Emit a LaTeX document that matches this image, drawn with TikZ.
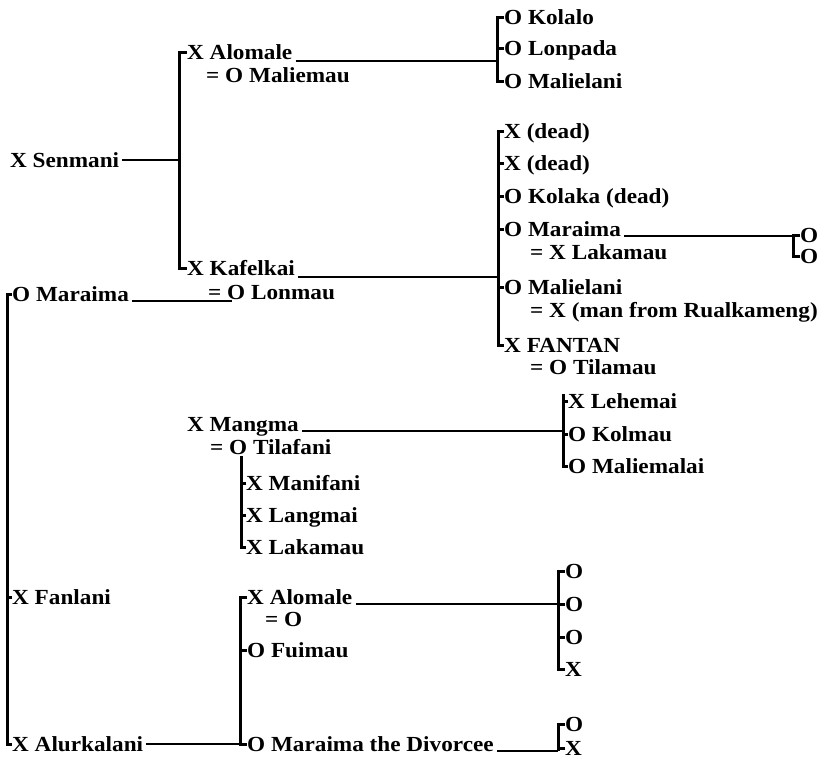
\documentclass[tikz,border=0pt]{standalone}
\usepackage{fontspec}
\setmainfont{Liberation Serif}[FakeStretch=1.08]
\usetikzlibrary{positioning}

\begin{document}
\begin{tikzpicture}[x=1pt, y=-1pt,
    font=\fontsize{21.5}{24}\selectfont\bfseries,
    person/.style={anchor=west, inner sep=0pt, text height=14pt, text depth=0pt},
    link/.style={line width=2.2pt},
    spine/.style={line width=3pt}]
  \useasboundingbox (0,0) rectangle (824,763);

  % Senmani and his two sons
  \node[person] (senmani)   at (10,160)  {X Senmani};
  \node[person] (alomaleA)  at (187,52)  {X Alomale};
  \node[person] (maliemau)  at (206,75)  {= O Maliemau};
  \node[person] (kafelkai)  at (187,268) {X Kafelkai};
  \node[person] (lonmau)    at (208,292) {= O Lonmau};

  % children of Alomale
  \node[person] (kolalo)     at (504,17) {O Kolalo};
  \node[person] (lonpada)    at (504,48) {O Lonpada};
  \node[person] (malielaniA) at (504,81) {O Malielani};

  % children of Kafelkai
  \node[person] (deadA)      at (504,131) {X (dead)};
  \node[person] (deadB)      at (504,163) {X (dead)};
  \node[person] (kolaka)     at (504,196) {O Kolaka (dead)};
  \node[person] (maraimaB)   at (504,229) {O Maraima};
  \node[person] (lakamauA)   at (530,252) {= X Lakamau};
  \node[person] (malielaniB) at (504,287) {O Malielani};
  \node[person] (rualk)      at (530,310) {= X (man from Rualkameng)};
  \node[person] (fantan)     at (504,345) {X FANTAN};
  \node[person] (tilamau)    at (530,367) {= O Tilamau};
  \node[person] (kidA)       at (800,235) {O};
  \node[person] (kidB)       at (800,256) {O};

  % Fantan's children
  \node[person] (lehemai)    at (568,401) {X Lehemai};
  \node[person] (kolmau)     at (568,434) {O Kolmau};
  \node[person] (maliemalai) at (568,466) {O Maliemalai};

  % Mangma
  \node[person] (mangma)     at (187,424) {X Mangma};
  \node[person] (tilafani)   at (210,447) {= O Tilafani};
  \node[person] (manifani)   at (246,483) {X Manifani};
  \node[person] (langmai)    at (246,515) {X Langmai};
  \node[person] (lakamauB)   at (246,547) {X Lakamau};

  % Maraima and her sons
  \node[person] (maraimaA)   at (12,294)  {O Maraima};
  \node[person] (fanlani)    at (12,597)  {X Fanlani};
  \node[person] (alurkalani) at (12,744)  {X Alurkalani};
  \node[person] (alomaleB)   at (247,597) {X Alomale};
  \node[person] (wifeB)      at (265,619) {= O};
  \node[person] (fuimau)     at (247,650) {O Fuimau};
  \node[person] (divorcee)   at (247,744) {O Maraima the Divorcee};
  \node[person] (kidC)       at (565,571) {O};
  \node[person] (kidD)       at (565,604) {O};
  \node[person] (kidE)       at (565,637) {O};
  \node[person] (kidF)       at (565,669) {X};
  \node[person] (kidG)       at (565,724) {O};
  \node[person] (kidH)       at (565,748) {X};

  % spine positions
  \coordinate (spS) at (179,0);
  \coordinate (spA) at (497,0);
  \coordinate (spB) at (498,0);
  \coordinate (spC) at (793,0);
  \coordinate (spT) at (563,0);
  \coordinate (spM) at (241,0);
  \coordinate (spL) at (7,0);
  \coordinate (spD) at (240,0);
  \coordinate (spE) at (558,0);
  \coordinate (lonmauO) at ([xshift=24pt]lonmau.south west);

  % brackets
  \draw[spine] (alomaleA.west) -- (alomaleA.west -| spS) -- (kafelkai.west -| spS) -- (kafelkai.west);
  \draw[spine] (kolalo.west) -- (kolalo.west -| spA) -- (malielaniA.west -| spA) -- (malielaniA.west);
  \draw[spine] (lonpada.west) -- (lonpada.west -| spA);
  \draw[spine] (deadA.west) -- (deadA.west -| spB) -- (fantan.west -| spB) -- (fantan.west);
  \draw[spine] (deadB.west) -- (deadB.west -| spB);
  \draw[spine] (kolaka.west) -- (kolaka.west -| spB);
  \draw[spine] (maraimaB.west) -- (maraimaB.west -| spB);
  \draw[spine] (malielaniB.west) -- (malielaniB.west -| spB);
  \draw[spine] (kidA.west) -- (kidA.west -| spC) -- (kidB.west -| spC) -- (kidB.west);
  \draw[spine] (lehemai.north -| spT) -- (maliemalai.west -| spT) -- (maliemalai.west);
  \draw[spine] (lehemai.west) -- (lehemai.west -| spT);
  \draw[spine] (kolmau.west) -- (kolmau.west -| spT);
  \draw[spine] ([yshift=-2pt]tilafani.south -| spM) -- (lakamauB.west -| spM) -- (lakamauB.west);
  \draw[spine] (manifani.west) -- (manifani.west -| spM);
  \draw[spine] (langmai.west) -- (langmai.west -| spM);
  \draw[spine] (maraimaA.west) -- (maraimaA.west -| spL) -- (alurkalani.west -| spL) -- (alurkalani.west);
  \draw[spine] (fanlani.west) -- (fanlani.west -| spL);
  \draw[spine] (alomaleB.west) -- (alomaleB.west -| spD) -- (divorcee.west -| spD) -- (divorcee.west);
  \draw[spine] (fuimau.west) -- (fuimau.west -| spD);
  \draw[spine] (kidC.west) -- (kidC.west -| spE) -- (kidF.west -| spE) -- (kidF.west);
  \draw[spine] (kidD.west) -- (kidD.west -| spE);
  \draw[spine] (kidE.west) -- (kidE.west -| spE);
  \draw[spine] (kidG.west) -- (kidG.west -| spE) -- (divorcee.south east -| spE);
  \draw[spine] (kidH.west) -- (kidH.west -| spE);

  % lines of descent
  \draw[link] ([xshift=3pt]senmani.east) -- (senmani.east -| spS);
  \draw[link] ([xshift=3pt,yshift=-2pt]alomaleA.south east) -- ([yshift=-2pt]alomaleA.south east -| spA);
  \draw[link] ([xshift=3pt,yshift=-2pt]kafelkai.south east) -- ([yshift=-2pt]kafelkai.south east -| spB);
  \draw[link] ([xshift=3pt]maraimaA.south east) -- (maraimaA.south east -| lonmauO);
  \draw[link] ([xshift=3pt]maraimaB.south east) -- (maraimaB.south east -| spC);
  \draw[link] ([xshift=3pt]mangma.south east) -- (mangma.south east -| spT);
  \draw[link] ([xshift=3pt]alurkalani.east) -- (alurkalani.east -| spD);
  \draw[link] ([xshift=3pt]alomaleB.south east) -- (alomaleB.south east -| spE);
  \draw[link] ([xshift=3pt]divorcee.south east) -- (divorcee.south east -| spE);
\end{tikzpicture}
\end{document}
